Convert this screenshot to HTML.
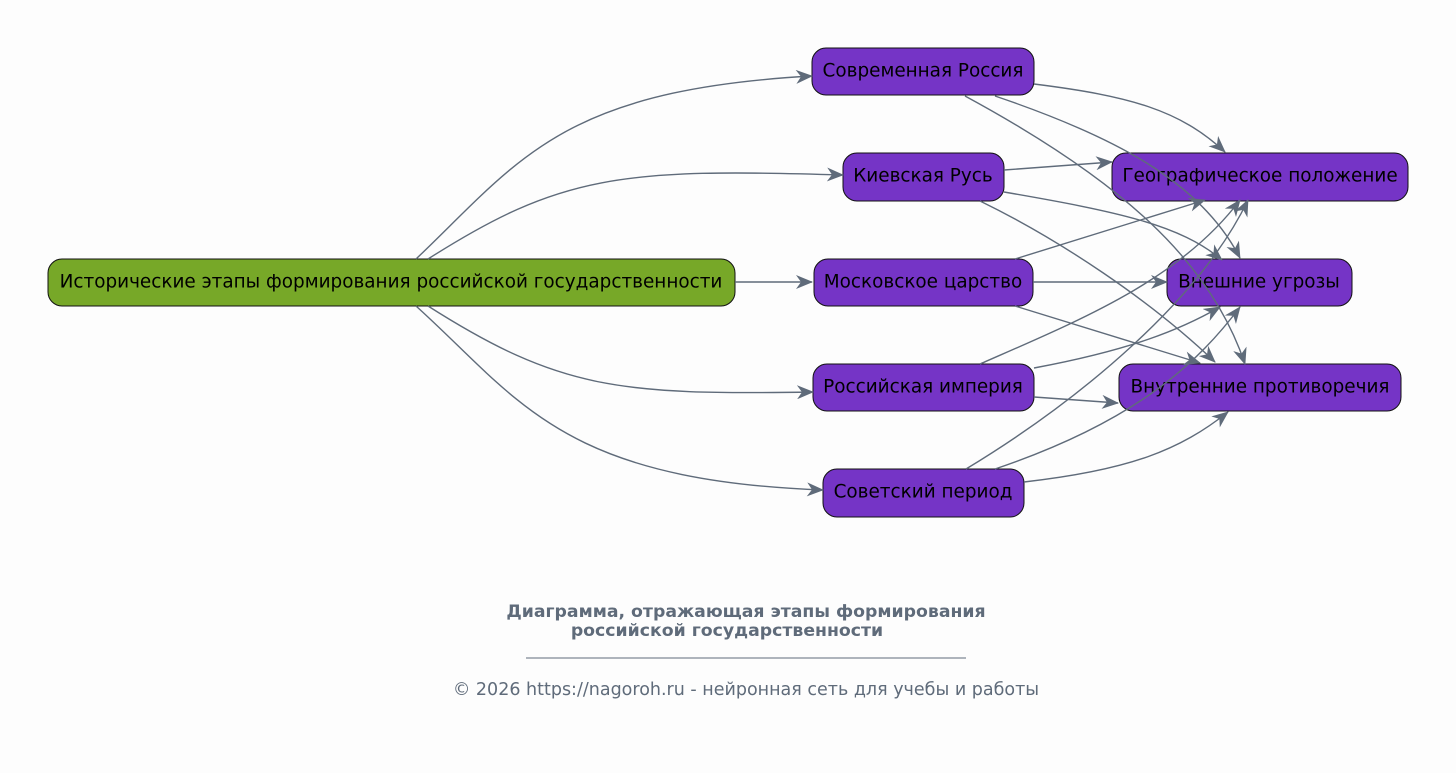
<!DOCTYPE html>
<html><head><meta charset="utf-8"><style>
body{margin:0;background:#fdfdfd;}
svg{display:block;font-family:"DejaVu Sans","Liberation Sans",sans-serif;}
.n{fill:#7534c6;stroke:#111;stroke-width:1}
.t{font-size:18.4px;fill:#000;text-anchor:middle;dominant-baseline:central}
.e{fill:none;stroke:#5f6b7a;stroke-width:1.4;marker-end:url(#a)}
</style></head><body>
<svg width="1456" height="773" viewBox="0 0 1456 773">
<defs><marker id="a" markerWidth="18" markerHeight="14" refX="16" refY="7" orient="auto" markerUnits="userSpaceOnUse">
<path d="M0,0 L17,7 L0,14 L5,7 z" fill="#5f6b7a"/></marker></defs>
<rect width="1456" height="773" fill="#fdfdfd"/>
<rect class="n" x="48" y="259" width="687" height="47" rx="14" style="fill:#77a828"/>
<text class="t" x="391" y="282">Исторические этапы формирования российской государственности</text>
<rect class="n" x="812" y="48" width="222" height="47" rx="14"/><text class="t" x="923" y="71">Современная Россия</text>
<rect class="n" x="843" y="153" width="161" height="48" rx="14"/><text class="t" x="923" y="176">Киевская Русь</text>
<rect class="n" x="814" y="259" width="219" height="47" rx="14"/><text class="t" x="923" y="282">Московское царство</text>
<rect class="n" x="813" y="364" width="221" height="47" rx="14"/><text class="t" x="923" y="387">Российская империя</text>
<rect class="n" x="823" y="469" width="201" height="48" rx="14"/><text class="t" x="923" y="492">Советский период</text>
<rect class="n" x="1112" y="153" width="296" height="48" rx="14"/><text class="t" x="1260" y="176">Географическое положение</text>
<rect class="n" x="1167" y="259" width="185" height="47" rx="14"/><text class="t" x="1259" y="282">Внешние угрозы</text>
<rect class="n" x="1119" y="364" width="282" height="47" rx="14"/><text class="t" x="1260" y="387">Внутренние противоречия</text>
<g>
<path class="e" d="M416,259 C520,160 560,90 812,76"/>
<path class="e" d="M428,259 C560,175 620,168 843,175"/>
<path class="e" d="M735,282 L812,282"/>
<path class="e" d="M428,306 C560,390 620,395 813,392"/>
<path class="e" d="M416,306 C520,400 560,480 823,490"/>
<path class="e" d="M1034,84 C1130,96 1180,110 1225,152"/>
<path class="e" d="M995,96 C1110,135 1200,180 1240,258"/>
<path class="e" d="M965,96 C1120,180 1210,260 1245,364"/>
<path class="e" d="M1004,170 L1112,162"/>
<path class="e" d="M1004,192 C1120,212 1180,225 1222,260"/>
<path class="e" d="M980,201 C1060,240 1150,300 1215,362"/>
<path class="e" d="M1015,259 L1205,200"/>
<path class="e" d="M1033,282 L1167,282"/>
<path class="e" d="M1015,306 L1200,363"/>
<path class="e" d="M980,364 C1080,320 1180,280 1240,200"/>
<path class="e" d="M1034,368 C1130,350 1180,330 1220,307"/>
<path class="e" d="M1034,397 L1118,403"/>
<path class="e" d="M966,469 C1080,400 1200,300 1248,200"/>
<path class="e" d="M995,469 C1140,420 1200,360 1240,307"/>
<path class="e" d="M1024,482 C1130,470 1180,450 1228,412"/>
</g>
<text x="746" y="617" font-size="17.3" font-weight="bold" fill="#5f6b7a" text-anchor="middle">Диаграмма, отражающая этапы формирования</text>
<text x="727" y="636" font-size="17.3" font-weight="bold" fill="#5f6b7a" text-anchor="middle">российской государственности</text>
<line x1="526" y1="658" x2="966" y2="658" stroke="#5f6b7a" stroke-width="1"/>
<text x="746" y="695" font-size="17.5" fill="#5f6b7a" text-anchor="middle">© 2026 https://nagoroh.ru - нейронная сеть для учебы и работы</text>
</svg>
</body></html>
